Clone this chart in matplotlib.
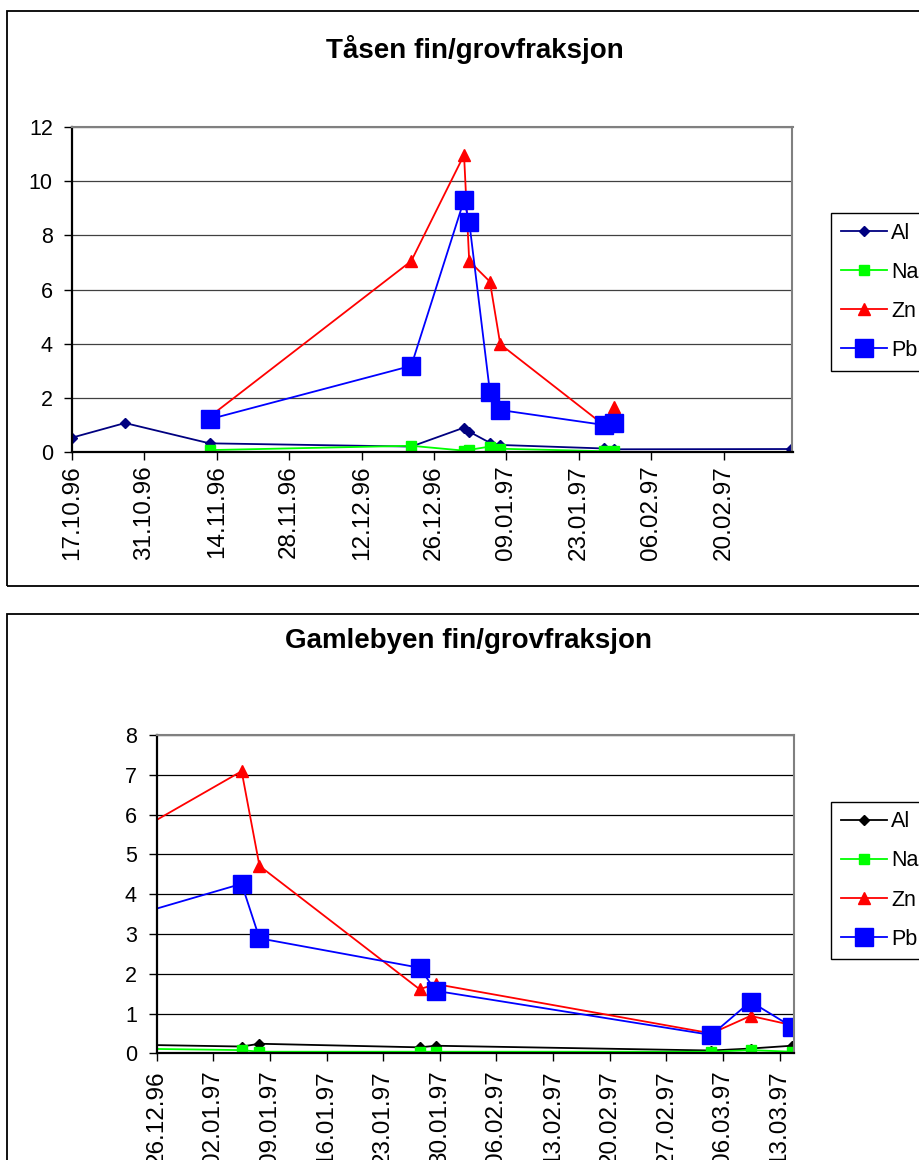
import matplotlib
matplotlib.use('Agg')
import matplotlib.pyplot as plt
import numpy as np
from matplotlib.patches import Rectangle
import matplotlib.dates as mdates

plt.rcParams['font.family'] = ['Liberation Sans', 'DejaVu Sans']

# ---------------- data: Tåsen ----------------
tasen_al_dates = ['1996-10-17T00:00', '1996-10-27T06:00', '1996-11-12T14:00', '1996-12-21T14:00',
                  '1996-12-31T19:00', '1997-01-01T19:00', '1997-01-05T19:00', '1997-01-07T19:00',
                  '1997-01-27T19:00', '1997-01-29T19:00', '1997-03-05T00:00']
tasen_al = [0.53, 1.07, 0.32, 0.20, 0.90, 0.75, 0.34, 0.26, 0.13, 0.10, 0.11]

tasen_dates = ['1996-11-12T14:00', '1996-12-21T14:00', '1996-12-31T19:00', '1997-01-01T19:00',
               '1997-01-05T19:00', '1997-01-07T19:00', '1997-01-27T19:00', '1997-01-29T19:00']
tasen_na = [0.07, 0.23, 0.05, 0.08, 0.20, 0.12, 0.03, 0.03]
tasen_zn = [1.30, 7.05, 10.97, 7.05, 6.29, 3.98, 1.00, 1.67]
tasen_pb = [1.21, 3.18, 9.30, 8.50, 2.22, 1.55, 1.00, 1.08]

# ---------------- data: Gamlebyen ----------------
gaml_dates = ['1996-12-22T00:00', '1997-01-05T12:00', '1997-01-07T17:00', '1997-01-27T12:00',
              '1997-01-29T12:00', '1997-03-04T14:00', '1997-03-09T10:00', '1997-03-14T12:00']
gaml_al = [0.22, 0.17, 0.24, 0.15, 0.19, 0.07, 0.12, 0.19]
gaml_na = [0.12, 0.08, 0.04, 0.04, 0.04, 0.04, 0.08, 0.04]
gaml_zn = [5.40, 7.09, 4.71, 1.61, 1.74, 0.50, 0.94, 0.71]
gaml_pb = [3.40, 4.26, 2.89, 2.15, 1.57, 0.46, 1.30, 0.67]

series_labels = ['Al', 'Na', 'Zn', 'Pb']

W, H = 920, 1160
fig = plt.figure(figsize=(W / 100, H / 100), dpi=100)


def fx(px):
    return px / W


def fy(py):
    return 1 - py / H


def dt(lst):
    return np.array(lst, dtype='datetime64[m]')


# panel borders
fig.add_artist(Rectangle((fx(7), fy(586)), 1.2, fy(11) - fy(586), transform=fig.transFigure,
                         fill=False, ec='black', lw=1.3))
fig.add_artist(Rectangle((fx(7), -0.2), 1.2, fy(614) + 0.2, transform=fig.transFigure,
                         fill=False, ec='black', lw=1.3))


def style_axes(ax, gridcolor, ymax, ystep, ypad, xpad):
    ax.set_ylim(0, ymax)
    ax.set_yticks(np.arange(0, ymax + 0.001, ystep))
    ax.yaxis.grid(True, color=gridcolor, lw=0.9)
    ax.set_axisbelow(True)
    for s in ['top', 'right']:
        ax.spines[s].set_color('#808080')
        ax.spines[s].set_linewidth(1.5)
    for s in ['left', 'bottom']:
        ax.spines[s].set_color('black')
        ax.spines[s].set_linewidth(1.6)
    ax.tick_params(axis='both', direction='out', length=5.8, width=1, colors='black')
    ax.tick_params(axis='y', pad=ypad, labelsize=15.5)
    ax.tick_params(axis='x', pad=xpad, labelrotation=90, labelsize=17.5)
    ax.xaxis.set_major_formatter(mdates.DateFormatter('%d.%m.%y'))


def plot_series(ax, al_d, al, d, na, zn, pb, alcolor):
    ax.plot(al_d, al, color=alcolor, lw=1.3, marker='D', ms=5.5, mfc=alcolor, mec=alcolor, label='Al')
    ax.plot(d, na, color='#00FF00', lw=1.3, marker='s', ms=7.5, mfc='#00FF00', mec='#00FF00', label='Na')
    ax.plot(d, zn, color='#FF0000', lw=1.3, marker='^', ms=8.5, mfc='#FF0000', mec='#FF0000', label='Zn')
    ax.plot(d, pb, color='#0000FF', lw=1.3, marker='s', ms=12.5, mfc='#0000FF', mec='#0000FF', label='Pb')


def add_legend(ax, top_px):
    leg = ax.legend(loc='upper left', bbox_to_anchor=(fx(831), fy(top_px)), bbox_transform=fig.transFigure,
                    borderaxespad=0, fancybox=False, edgecolor='black', framealpha=1, fontsize=15.5,
                    handlelength=2.15, handletextpad=0.2, labelspacing=0.84, borderpad=0.45, numpoints=1)
    leg.get_frame().set_linewidth(1.0)
    return leg


# ---------------- top chart ----------------
ax1 = fig.add_axes([fx(72), fy(452), fx(792.5) - fx(72), fy(127) - fy(452)])
plot_series(ax1, dt(tasen_al_dates), tasen_al, dt(tasen_dates), tasen_na, tasen_zn, tasen_pb, '#000080')
style_axes(ax1, '#404040', 12, 2, 8, 4)
ax1.set_xlim(np.datetime64('1996-10-17T00:00'), np.datetime64('1997-03-05T07:00'))
ax1.set_xticks(np.arange(np.datetime64('1996-10-17'), np.datetime64('1997-02-21'), np.timedelta64(14, 'D')))
fig.text(fx(475), fy(50), 'Tåsen fin/grovfraksjon', ha='center', va='center',
         fontsize=20, fontweight='bold')
add_legend(ax1, 213)

# ---------------- bottom chart ----------------
ax2 = fig.add_axes([fx(156.7), fy(1053.3), fx(794) - fx(156.7), fy(735) - fy(1053.3)])
plot_series(ax2, dt(gaml_dates), gaml_al, dt(gaml_dates), gaml_na, gaml_zn, gaml_pb, '#000000')
style_axes(ax2, '#000000', 8, 1, 8.5, 6.5)
ax2.set_xlim(np.datetime64('1996-12-26T00:00'), np.datetime64('1997-03-14T19:00'))
ax2.set_xticks(np.arange(np.datetime64('1996-12-26'), np.datetime64('1997-03-14'), np.timedelta64(7, 'D')))
fig.text(fx(469), fy(641), 'Gamlebyen fin/grovfraksjon', ha='center', va='center',
         fontsize=20, fontweight='bold')
add_legend(ax2, 801.7)

fig.savefig('out.png', dpi=100)
